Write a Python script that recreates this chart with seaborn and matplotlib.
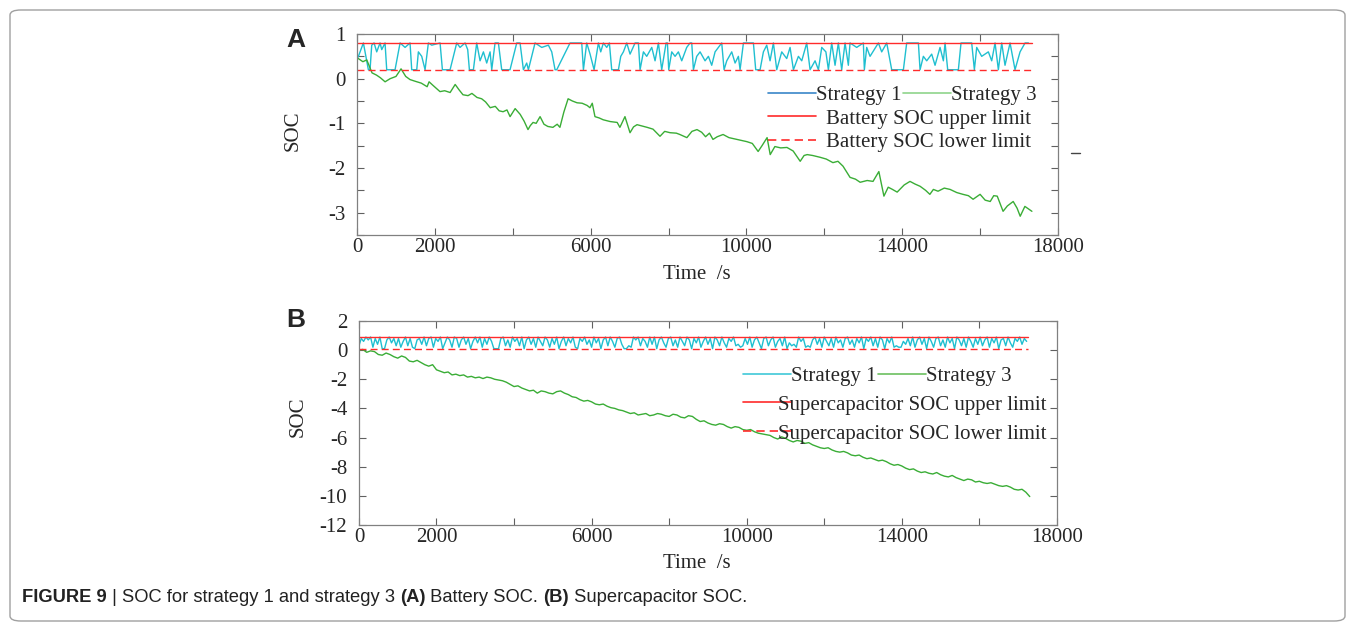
import numpy as np
import pandas as pd
import matplotlib
matplotlib.use("Agg")
import matplotlib.pyplot as plt
from matplotlib.lines import Line2D
from matplotlib.patches import FancyBboxPatch
import seaborn as sns

# ---- Panel A : battery SOC (time s, SOC) ----
a_s1_points = [
    (0, 0.45), (35, 0.5), (163, 0.8), (291, 0.2), (334, 0.2), (377, 0.75), (437, 0.8), (505, 0.6),
    (591, 0.8), (634, 0.65), (719, 0.8), (762, 0.2), (976, 0.2), (1105, 0.8), (1233, 0.7), (1361, 0.8),
    (1404, 0.2), (1533, 0.2), (1575, 0.6), (1661, 0.5), (1747, 0.2), (1832, 0.8), (1918, 0.75), (2132, 0.8),
    (2192, 0.2), (2389, 0.2), (2474, 0.5), (2560, 0.8), (2645, 0.7), (2774, 0.8), (2842, 0.65), (2885, 0.2),
    (2988, 0.2), (3073, 0.8), (3159, 0.4), (3245, 0.6), (3330, 0.35), (3416, 0.6), (3459, 0.2), (3544, 0.8),
    (3630, 0.8), (3715, 0.2), (3929, 0.2), (4015, 0.5), (4101, 0.8), (4186, 0.8), (4272, 0.2), (4357, 0.35),
    (4400, 0.2), (4571, 0.8), (4743, 0.7), (4914, 0.75), (5000, 0.6), (5085, 0.2), (5128, 0.2), (5470, 0.8),
    (5770, 0.8), (5813, 0.2), (5898, 0.8), (5984, 0.55), (6087, 0.2), (6198, 0.8), (6258, 0.6), (6326, 0.8),
    (6412, 0.7), (6480, 0.8), (6540, 0.2), (6712, 0.2), (6772, 0.5), (6840, 0.6), (6926, 0.8), (7011, 0.55),
    (7140, 0.8), (7225, 0.8), (7268, 0.2), (7354, 0.6), (7439, 0.5), (7568, 0.7), (7653, 0.4), (7739, 0.8),
    (7824, 0.2), (7936, 0.8), (7970, 0.8), (8004, 0.2), (8081, 0.6), (8167, 0.5), (8252, 0.6), (8338, 0.4),
    (8466, 0.7), (8552, 0.8), (8595, 0.8), (8638, 0.2), (8723, 0.5), (8809, 0.6), (8937, 0.4), (9023, 0.5),
    (9108, 0.3), (9194, 0.6), (9365, 0.8), (9425, 0.2), (9494, 0.4), (9622, 0.6), (9708, 0.35), (9793, 0.5),
    (9836, 0.2), (9922, 0.8), (10178, 0.8), (10238, 0.2), (10350, 0.2), (10435, 0.6), (10521, 0.75), (10606, 0.4),
    (10692, 0.8), (10778, 0.2), (10906, 0.6), (11034, 0.45), (11120, 0.7), (11206, 0.2), (11334, 0.5), (11420, 0.4),
    (11548, 0.8), (11634, 0.2), (11762, 0.4), (11848, 0.2), (11933, 0.7), (12040, 0.6), (12104, 0.2), (12189, 0.8),
    (12275, 0.3), (12360, 0.8), (12446, 0.2), (12532, 0.8), (12617, 0.3), (12660, 0.8), (12831, 0.7), (13002, 0.8),
    (13028, 0.2), (13088, 0.7), (13174, 0.5), (13388, 0.8), (13473, 0.6), (13602, 0.8), (13730, 0.2), (14030, 0.2),
    (14115, 0.8), (14415, 0.8), (14458, 0.2), (14543, 0.5), (14629, 0.4), (14757, 0.55), (14843, 0.3), (14971, 0.7),
    (15057, 0.4), (15100, 0.8), (15168, 0.2), (15442, 0.2), (15510, 0.8), (15784, 0.8), (15853, 0.2), (15913, 0.7),
    (16041, 0.5), (16212, 0.6), (16298, 0.4), (16384, 0.8), (16469, 0.2), (16555, 0.8), (16640, 0.3), (16769, 0.8),
    (16897, 0.2), (17026, 0.6), (17154, 0.8), (17240, 0.8),
]
a_s3_points = [
    (0, 0.47), (150, 0.38), (250, 0.42), (385, 0.13), (500, 0.08), (600, 0.02), (720, -0.07), (850, 0.0),
    (1000, 0.05), (1130, 0.22), (1250, 0.05), (1360, -0.02), (1500, -0.06), (1650, -0.1), (1800, -0.18),
    (1850, -0.07), (1950, -0.15), (2130, -0.29), (2250, -0.27), (2390, -0.31), (2520, -0.13), (2620, -0.25),
    (2720, -0.36), (2850, -0.38), (2950, -0.33), (3080, -0.42), (3200, -0.45), (3300, -0.52), (3420, -0.65),
    (3550, -0.62), (3650, -0.72), (3750, -0.74), (3850, -0.7), (3930, -0.85), (4060, -0.67), (4190, -0.8),
    (4290, -0.95), (4390, -1.14), (4450, -1.05), (4520, -0.98), (4600, -1.0), (4700, -0.85), (4800, -1.02),
    (4900, -1.07), (5030, -1.09), (5140, -1.02), (5210, -1.09), (5310, -0.75), (5420, -0.45), (5530, -0.5),
    (5650, -0.54), (5780, -0.55), (5910, -0.6), (5980, -0.65), (6040, -0.55), (6110, -0.85), (6220, -0.88),
    (6320, -0.92), (6500, -0.96), (6680, -0.98), (6750, -1.09), (6880, -0.85), (7010, -1.21), (7100, -1.08),
    (7190, -1.03), (7320, -1.06), (7450, -1.09), (7600, -1.13), (7780, -1.29), (7900, -1.18), (8040, -1.21),
    (8200, -1.22), (8290, -1.25), (8470, -1.32), (8600, -1.18), (8730, -1.14), (8850, -1.2), (8950, -1.3),
    (9050, -1.22), (9140, -1.36), (9250, -1.3), (9400, -1.25), (9550, -1.32), (9700, -1.35), (9850, -1.38),
    (10010, -1.41), (10150, -1.45), (10300, -1.63), (10400, -1.5), (10530, -1.32), (10610, -1.7), (10730, -1.52),
    (10880, -1.55), (11040, -1.54), (11200, -1.62), (11380, -1.85), (11480, -1.72), (11560, -1.7), (11700, -1.72),
    (11890, -1.76), (12050, -1.8), (12220, -1.88), (12350, -1.85), (12480, -1.96), (12660, -2.21), (12800, -2.25),
    (12920, -2.32), (13100, -2.28), (13250, -2.3), (13400, -2.08), (13530, -2.63), (13640, -2.43), (13750, -2.48),
    (13870, -2.54), (14050, -2.38), (14200, -2.3), (14330, -2.36), (14460, -2.41), (14600, -2.5), (14710, -2.59),
    (14800, -2.48), (14920, -2.52), (15080, -2.45), (15230, -2.48), (15400, -2.55), (15560, -2.59), (15700, -2.62),
    (15820, -2.7), (16000, -2.59), (16130, -2.72), (16260, -2.75), (16350, -2.62), (16440, -2.63), (16590, -2.97),
    (16700, -2.85), (16850, -2.75), (16950, -2.9), (17030, -3.08), (17150, -2.86), (17250, -2.92), (17330, -2.97),
]
a_limit_t = [0, 17330]
a_upper = 0.8
a_lower = 0.2

# ---- Panel B : supercapacitor SOC ----
b_s1_step = 60
b_s1 = [
    0.3, 0.8, 0.6, 0.9, 0.7, 0.9, 0.2, 0.8, 0.4, 0.9, 0.1, 0.1, 0.7, 0.9, 0.5, 0.8, 0.3, 0.8, 0.2, 0.6, 0.9, 0.3, 0.8, 0.2,
    0.1, 0.7, 0.8, 0.4, 0.9, 0.3, 0.8, 0.9, 0.2, 0.8, 0.6, 0.9, 0.1, 0.5, 0.9, 0.7, 0.2, 0.9, 0.8, 0.2, 0.7, 0.9, 0.4, 0.8,
    0.1, 0.6, 0.9, 0.5, 0.9, 0.2, 0.8, 0.4, 0.9, 0.6, 0.1, 0.1, 0.1, 0.8, 0.9, 0.3, 0.7, 0.2, 0.9, 0.6, 0.8, 0.3, 0.9, 0.1,
    0.7, 0.9, 0.4, 0.8, 0.2, 0.9, 0.6, 0.3, 0.9, 0.7, 0.2, 0.8, 0.4, 0.9, 0.1, 0.6, 0.9, 0.3, 0.8, 0.5, 0.9, 0.2, 0.1, 0.8,
    0.6, 0.9, 0.4, 0.7, 0.2, 0.9, 0.5, 0.8, 0.1, 0.7, 0.9, 0.3, 0.9, 0.6, 0.2, 0.8, 0.9, 0.4, 0.1, 0.1, 0.3, 0.2, 0.9, 0.7,
    0.9, 0.3, 0.8, 0.6, 0.2, 0.9, 0.4, 0.9, 0.1, 0.7, 0.9, 0.5, 0.2, 0.8, 0.9, 0.3, 0.7, 0.2, 0.9, 0.6, 0.3, 0.9, 0.7, 0.1,
    0.8, 0.5, 0.9, 0.2, 0.6, 0.9, 0.4, 0.8, 0.1, 0.9, 0.7, 0.3, 0.9, 0.5, 0.2, 0.8, 0.6, 0.9, 0.3, 0.4, 0.2, 0.3, 0.8, 0.4,
    0.9, 0.2, 0.7, 0.9, 0.5, 0.1, 0.8, 0.9, 0.3, 0.7, 0.9, 0.2, 0.6, 0.8, 0.3, 0.9, 0.1, 0.5, 0.3, 0.4, 0.2, 0.9, 0.6, 0.8,
    0.2, 0.3, 0.2, 0.7, 0.9, 0.4, 0.8, 0.2, 0.9, 0.6, 0.3, 0.8, 0.2, 0.9, 0.5, 0.7, 0.2, 0.8, 0.9, 0.4, 0.7, 0.2, 0.8, 0.5,
    0.9, 0.1, 0.8, 0.6, 0.9, 0.3, 0.8, 0.2, 0.9, 0.7, 0.1, 0.8, 0.5, 0.9, 0.2, 0.3, 0.2, 0.2, 0.6, 0.4, 0.8, 0.3, 0.9, 0.2,
    0.7, 0.9, 0.4, 0.8, 0.1, 0.9, 0.6, 0.2, 0.8, 0.9, 0.3, 0.7, 0.2, 0.9, 0.5, 0.8, 0.1, 0.9, 0.7, 0.3, 0.8, 0.2, 0.9, 0.6,
    0.2, 0.8, 0.4, 0.9, 0.3, 0.7, 0.9, 0.2, 0.8, 0.5, 0.9, 0.1, 0.7, 0.8, 0.3, 0.9, 0.5, 0.2, 0.8, 0.6, 0.9, 0.4, 0.8, 0.6,
]
b_s3_step = 100
b_s3 = [
    0.0, 0.05, -0.15, -0.05, -0.1, -0.3, -0.35, -0.2, -0.3, -0.45, -0.55, -0.4, -0.5, -0.75, -0.8, -0.7, -0.85, -1.0,
    -1.1, -1.0, -1.35, -1.45, -1.55, -1.5, -1.7, -1.65, -1.75, -1.7, -1.85, -1.8, -1.9, -1.85, -1.95, -1.85, -1.9,
    -2.0, -2.05, -2.1, -2.2, -2.35, -2.5, -2.45, -2.6, -2.7, -2.8, -2.75, -2.95, -2.8, -2.85, -2.95, -3.0, -2.85,
    -2.8, -2.95, -3.05, -3.2, -3.25, -3.4, -3.5, -3.45, -3.55, -3.7, -3.75, -3.7, -3.85, -3.95, -4.0, -4.1, -4.15,
    -4.25, -4.35, -4.3, -4.45, -4.4, -4.35, -4.5, -4.45, -4.35, -4.4, -4.5, -4.55, -4.4, -4.45, -4.6, -4.65, -4.5,
    -4.55, -4.75, -4.9, -4.85, -5.0, -5.1, -5.15, -5.05, -5.1, -5.25, -5.35, -5.25, -5.3, -5.45, -5.5, -5.45, -5.6,
    -5.7, -5.75, -5.8, -5.85, -6.0, -6.1, -5.95, -6.05, -6.2, -6.3, -6.2, -6.25, -6.4, -6.35, -6.5, -6.6, -6.7,
    -6.75, -6.7, -6.85, -6.95, -7.0, -6.95, -7.05, -7.2, -7.25, -7.2, -7.35, -7.45, -7.4, -7.5, -7.6, -7.55, -7.65,
    -7.8, -7.9, -7.85, -7.95, -8.1, -8.2, -8.15, -8.3, -8.4, -8.35, -8.45, -8.5, -8.4, -8.55, -8.65, -8.7, -8.6,
    -8.75, -8.85, -8.95, -8.85, -8.9, -9.05, -9.0, -9.1, -9.15, -9.1, -9.2, -9.3, -9.35, -9.3, -9.4, -9.55, -9.6,
    -9.55, -9.75, -10.05,
]
b_limit_t = [0, 17250]
b_upper = 0.9
b_lower = 0.1

x_ticks = [0, 2000, 4000, 6000, 8000, 10000, 12000, 14000, 16000, 18000]
x_tick_labels = ["0", "2000", "", "6000", "", "10000", "", "14000", "", "18000"]
a_yticks = [1, 0, -1, -2, -3]
a_ytick_labels = ["1", "0", "-1", "-2", "-3"]
a_yminor = [0.5, -0.5, -1.5, -2.5, -3.5]
b_yticks = [2, 0, -2, -4, -6, -8, -10, -12]
b_ytick_labels = ["2", "0", "-2", "-4", "-6", "-8", "-10", "-12"]

CYAN = "#1fbfd0"
GREEN = "#3aad36"
RED = "#ff2b2b"

sns.set_theme(style="ticks")
plt.rcParams['font.family'] = ['Liberation Serif', 'DejaVu Serif']

fig = plt.figure(figsize=(13.55, 6.31), dpi=100)
axA = fig.add_axes([0.2635, 0.6276, 0.5173, 0.3185])
axB = fig.add_axes([0.2649, 0.1680, 0.5151, 0.3233])


def draw_series(ax, t, v, color):
    sns.lineplot(x=t, y=v, ax=ax, color=color, lw=1.0, estimator=None, sort=False, legend=False)


def style_axis(ax, ylim, yticks, ylabels, yminor):
    ax.set_xlim(0, 18000)
    ax.set_ylim(*ylim)
    ax.set_xticks(x_ticks)
    ax.set_xticklabels(x_tick_labels)
    ax.set_yticks(yticks)
    ax.set_yticklabels(ylabels)
    if yminor:
        ax.set_yticks(yminor, minor=True)
    ax.tick_params(which="both", direction="in", top=True, right=True, length=5,
                   width=0.8, color="#606060", labelsize=15)
    ax.tick_params(axis="x", pad=2.5)
    ax.tick_params(axis="y", pad=8.5)
    for s in ax.spines.values():
        s.set_color("#808080")
        s.set_linewidth(0.9)
    ax.set_xlabel("Time  /s", fontsize=15)
    ax.set_ylabel("SOC", fontsize=15)


# panel A
a_t1, a_v1 = zip(*a_s1_points)
a_t3, a_v3 = zip(*a_s3_points)
draw_series(axA, list(a_t1), list(a_v1), CYAN)
draw_series(axA, list(a_t3), list(a_v3), GREEN)
draw_series(axA, a_limit_t, [a_upper, a_upper], RED)
sns.lineplot(x=a_limit_t, y=[a_lower, a_lower], ax=axA, color=RED, lw=1.0,
             linestyle=(0, (5, 3)), legend=False)
style_axis(axA, (-3.5, 1), a_yticks, a_ytick_labels, a_yminor)
axA.xaxis.set_label_coords(0.485, -0.15)
axA.yaxis.set_label_coords(-0.077, 0.52)

# panel B
b_t1 = np.arange(len(b_s1)) * b_s1_step
b_t3 = np.arange(len(b_s3)) * b_s3_step
draw_series(axB, b_t1, b_s1, CYAN)
draw_series(axB, b_t3, b_s3, GREEN)
draw_series(axB, b_limit_t, [b_upper, b_upper], RED)
sns.lineplot(x=b_limit_t, y=[b_lower, b_lower], ax=axB, color=RED, lw=1.0,
             linestyle=(0, (5, 3)), legend=False)
style_axis(axB, (-12, 2), b_yticks, b_ytick_labels, None)
axB.xaxis.set_label_coords(0.484, -0.14)
axB.yaxis.set_label_coords(-0.074, 0.53)


# legends
def add_legends(ax, s1_col, s3_col, labels, x0, y1, y2, pad2, spacing):
    h1 = [Line2D([], [], color=s1_col, lw=1.2), Line2D([], [], color=s3_col, lw=1.2)]
    leg1 = ax.legend(h1, ["Strategy 1", "Strategy 3"], ncol=2, loc="center left",
                     bbox_to_anchor=(x0, y1), frameon=False, fontsize=15, handlelength=2.3,
                     handletextpad=0.0, columnspacing=0.1, borderpad=0, borderaxespad=0)
    ax.add_artist(leg1)
    h2 = [Line2D([], [], color=RED, lw=1.2), Line2D([], [], color=RED, lw=1.2, ls=(0, (5, 3)))]
    ax.legend(h2, labels, loc="upper left", bbox_to_anchor=(x0, y2), frameon=False,
              fontsize=15, handlelength=2.3, handletextpad=pad2, labelspacing=spacing,
              borderpad=0, borderaxespad=0)


add_legends(axA, "#3a86c8", "#8fd48b",
            ["Battery SOC upper limit", "Battery SOC lower limit"],
            0.586, 0.696, 0.627, 0.5, 0.2)
add_legends(axB, "#40c8d8", "#6cc060",
            ["Supercapacitor SOC upper limit", "Supercapacitor SOC lower limit"],
            0.550, 0.730, 0.637, -0.6, 0.45)

# panel letters
fig.text(296 / 1355, 1 - 40 / 631, "A", fontsize=19, fontweight="bold",
         family=["Liberation Sans", "DejaVu Sans"], ha="center", va="center")
fig.text(296 / 1355, 1 - 320 / 631, "B", fontsize=19, fontweight="bold",
         family=["Liberation Sans", "DejaVu Sans"], ha="center", va="center")

# small stray dash to the right of panel A
fig.add_artist(Line2D([1071 / 1355, 1080 / 1355], [1 - 153 / 631, 1 - 153 / 631],
                      color="#444444", lw=1, transform=fig.transFigure))

# frame around the figure
fig.patches.append(FancyBboxPatch((10 / 1355, 10 / 631), 1335 / 1355, 611 / 631,
                                  boxstyle="round,pad=0,rounding_size=0.008",
                                  transform=fig.transFigure, fill=False,
                                  edgecolor="#a0a0a0", lw=1.0))

# caption
cap_family = ["Liberation Sans Narrow", "Liberation Sans", "DejaVu Sans"]
parts = [("FIGURE 9", "bold"), (" | SOC for strategy 1 and strategy 3 ", "normal"),
         ("(A)", "bold"), (" Battery SOC. ", "normal"), ("(B)", "bold"),
         (" Supercapacitor SOC.", "normal")]
renderer = fig.canvas.get_renderer()
x = 22 / 1355
for txt, w in parts:
    t = fig.text(x, 1 - 598 / 631, txt, fontsize=13.2, fontweight=w, family=cap_family,
                 ha="left", va="center", color="#222222")
    bb = t.get_window_extent(renderer)
    x += bb.width / fig.bbox.width

fig.savefig("out.png", dpi=100)
